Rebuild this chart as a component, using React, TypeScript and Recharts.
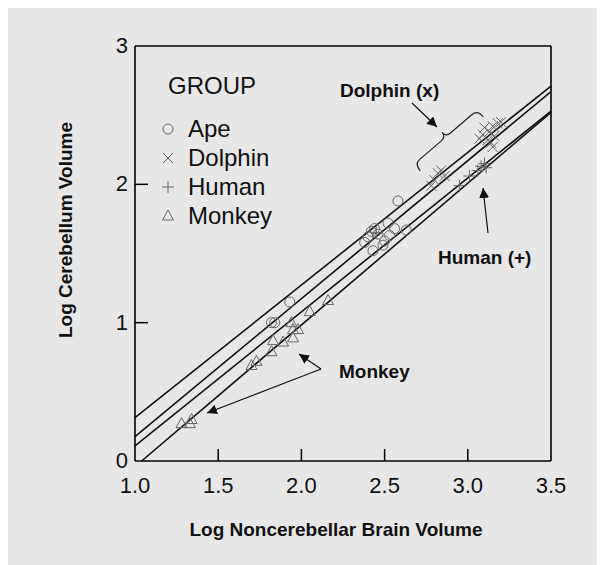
import React from "react"
import { ScatterChart, Scatter, XAxis, YAxis, ReferenceLine } from "recharts"

const xTicks = [1.0, 1.5, 2.0, 2.5, 3.0, 3.5]
const yTicks = [0, 1, 2, 3]

// [log noncerebellar brain volume, log cerebellum volume]
const apePoints = [
  [1.82, 1.0], [1.84, 1.0], [1.93, 1.15], [2.38, 1.58], [2.4, 1.62], [2.42, 1.66],
  [2.44, 1.68], [2.46, 1.64], [2.43, 1.52], [2.49, 1.56], [2.5, 1.59], [2.52, 1.72],
  [2.53, 1.63], [2.56, 1.68], [2.58, 1.88], [2.63, 1.67],
]
const dolphinPoints = [
  [2.78, 1.99], [2.8, 2.03], [2.82, 2.08], [2.84, 2.1], [2.86, 2.06], [3.07, 2.33],
  [3.09, 2.36], [3.1, 2.41], [3.12, 2.32], [3.13, 2.38], [3.14, 2.3], [3.15, 2.42],
  [3.16, 2.35], [3.18, 2.44], [3.2, 2.45], [3.15, 2.27],
]
const humanPoints = [
  [2.45, 1.65], [2.95, 1.99], [3.01, 2.06], [3.06, 2.1], [3.08, 2.13], [3.1, 2.15], [3.11, 2.12],
]
const monkeyPoints = [
  [1.28, 0.27], [1.33, 0.27], [1.34, 0.3], [1.7, 0.69], [1.73, 0.72], [1.82, 0.79],
  [1.83, 0.87], [1.89, 0.86], [1.95, 0.89], [1.94, 1.0], [1.95, 0.95], [1.98, 0.95],
  [2.05, 1.08], [2.16, 1.16],
]

// fitted lines: [x0, y0, x1, y1]
const apeFit = [1.0, 0.313, 3.5, 2.71]
const dolphinFit = [1.0, 0.176, 3.5, 2.67]
const humanFit = [1.0, 0.11, 3.5, 2.53]
const monkeyFit = [1.04, 0, 3.5, 2.52]

const groups = ["Ape", "Dolphin", "Human", "Monkey"]

const BG = "#e7e7e7"
const MARK = "#666"
const FONT = "'Liberation Sans', Arial, Helvetica, sans-serif"

const toRows = (pts: number[][]) => pts.map(([x, y]) => ({ x, y }))

function Marker({ kind, cx, cy }: { kind: string; cx: number; cy: number }) {
  const p = { stroke: MARK, strokeWidth: 1, fill: "none" }
  if (kind === "Ape") return <circle cx={cx} cy={cy} r={5} {...p} />
  if (kind === "Dolphin")
    return <path d={`M${cx - 5},${cy - 5}L${cx + 5},${cy + 5}M${cx - 5},${cy + 5}L${cx + 5},${cy - 5}`} {...p} />
  if (kind === "Human")
    return <path d={`M${cx - 6},${cy}L${cx + 6},${cy}M${cx},${cy - 6}L${cx},${cy + 6}`} {...p} />
  return <path d={`M${cx},${cy - 6}L${cx + 5.5},${cy + 4}L${cx - 5.5},${cy + 4}Z`} {...p} />
}

const tickText = { fontSize: 22, fill: "#111", fontFamily: FONT }

const BottomTick = ({ x, y, payload }: any) => (
  <g>
    {payload.value > 1 && payload.value < 3.5 && (
      <line x1={x} x2={x} y1={y} y2={y - 12} stroke="#000" strokeWidth={1.5} />
    )}
    <text x={x} y={y + 32} textAnchor="middle" {...tickText}>
      {payload.value.toFixed(1)}
    </text>
  </g>
)

const TopTick = ({ x, y, payload }: any) =>
  payload.value > 1 && payload.value < 3.5 ? (
    <line x1={x} x2={x} y1={y} y2={y + 12} stroke="#000" strokeWidth={1.5} />
  ) : (
    <g />
  )

const LeftTick = ({ x, y, payload }: any) => (
  <g>
    {payload.value > 0 && payload.value < 3 && (
      <line x1={x} x2={x + 13} y1={y} y2={y} stroke="#000" strokeWidth={1.5} />
    )}
    <text x={x - 7} y={y + 7} textAnchor="end" {...tickText}>
      {payload.value}
    </text>
  </g>
)

const RightTick = ({ x, y, payload }: any) =>
  payload.value > 0 && payload.value < 3 ? (
    <line x1={x} x2={x - 13} y1={y} y2={y} stroke="#000" strokeWidth={1.5} />
  ) : (
    <g />
  )

function Brace({ x0, y0, x1, y1 }: { x0: number; y0: number; x1: number; y1: number }) {
  const len = Math.hypot(x1 - x0, y1 - y0)
  const ang = (Math.atan2(y1 - y0, x1 - x0) * 180) / Math.PI
  const h = len / 2
  const d = `M0,5 Q0,-4 7,-4 L${h - 6},-4 Q${h},-4 ${h},-10 Q${h},-4 ${h + 6},-4 L${len - 7},-4 Q${len},-4 ${len},5`
  return <path d={d} transform={`translate(${x0},${y0}) rotate(${ang})`} fill="none" stroke="#222" strokeWidth={1.2} />
}

const axisStyle = { stroke: "#000", strokeWidth: 1.6 }

export default function App() {
  const series = [apePoints, dolphinPoints, humanPoints, monkeyPoints]
  const fits = [apeFit, dolphinFit, humanFit, monkeyFit]
  const bold = { fontFamily: FONT, fontWeight: 700, fontSize: 19, fill: "#111" }

  return (
    <div style={{ position: "relative", width: 597, height: 557, background: BG }}>
      <style>{`html,body{overflow:hidden}`}</style>
      <ScatterChart width={597} height={557} margin={{ top: 37, right: 53, bottom: 103, left: 126 }}>
        <XAxis
          xAxisId="b"
          type="number"
          dataKey="x"
          domain={[1, 3.5]}
          ticks={xTicks}
          height={1}
          tickSize={0}
          tickMargin={0}
          tickLine={false}
          tick={<BottomTick />}
          axisLine={axisStyle}
          interval={0}
        />
        <XAxis
          xAxisId="t"
          orientation="top"
          type="number"
          dataKey="x"
          domain={[1, 3.5]}
          ticks={xTicks}
          height={1}
          tickSize={0}
          tickMargin={0}
          tickLine={false}
          tick={<TopTick />}
          axisLine={axisStyle}
          interval={0}
        />
        <YAxis
          yAxisId="l"
          type="number"
          dataKey="y"
          domain={[0, 3]}
          ticks={yTicks}
          width={1}
          tickSize={0}
          tickMargin={0}
          tickLine={false}
          tick={<LeftTick />}
          axisLine={axisStyle}
          interval={0}
        />
        <YAxis
          yAxisId="r"
          orientation="right"
          type="number"
          dataKey="y"
          domain={[0, 3]}
          ticks={yTicks}
          width={1}
          tickSize={0}
          tickMargin={0}
          tickLine={false}
          tick={<RightTick />}
          axisLine={axisStyle}
          interval={0}
        />
        {fits.map((f, i) => (
          <ReferenceLine
            key={groups[i]}
            xAxisId="b"
            yAxisId="l"
            segment={[
              { x: f[0], y: f[1] },
              { x: f[2], y: f[3] },
            ]}
            stroke="#111"
            strokeWidth={1.6}
          />
        ))}
        {series.map((pts, i) => (
          <Scatter
            key={groups[i]}
            name={groups[i]}
            xAxisId="b"
            yAxisId="l"
            data={toRows(pts)}
            isAnimationActive={false}
            shape={(p: any) => <Marker kind={groups[i]} cx={p.cx} cy={p.cy} />}
          />
        ))}
      </ScatterChart>
      <svg
        width={597}
        height={557}
        style={{ position: "absolute", left: 0, top: 0, pointerEvents: "none" }}
      >
        <defs>
          <marker id="ah" viewBox="0 0 10 10" refX="10" refY="5" markerWidth="10" markerHeight="10" markerUnits="userSpaceOnUse" orient="auto">
            <path d="M0,0 L10,5 L0,10 Z" fill="#111" />
          </marker>
        </defs>
        <text x={160} y={86} fontFamily={FONT} fontSize={24} fill="#111">GROUP</text>
        {groups.map((g, i) => (
          <g key={g}>
            <Marker kind={g} cx={160} cy={121 + i * 29} />
            <text x={180} y={129 + i * 29} fontFamily={FONT} fontSize={24} fill="#111">
              {g}
            </text>
          </g>
        ))}
        <text x={328} y={528} textAnchor="middle" {...bold}>Log Noncerebellar Brain Volume</text>
        <text x={0} y={0} textAnchor="middle" transform="translate(64,222) rotate(-90)" {...bold}>
          Log Cerebellum Volume
        </text>

        <text x={332} y={89} {...bold}>Dolphin (x)</text>
        <line x1={404} y1={95} x2={429} y2={119} stroke="#111" strokeWidth={1.2} markerEnd="url(#ah)" />
        <Brace x0={409} y0={159} x1={472} y1={105} />

        <text x={430} y={256} {...bold}>Human (+)</text>
        <line x1={480} y1={225} x2={475} y2={180} stroke="#111" strokeWidth={1.2} markerEnd="url(#ah)" />

        <text x={331} y={370} {...bold}>Monkey</text>
        <line x1={313} y1={361} x2={291} y2={346} stroke="#111" strokeWidth={1.2} markerEnd="url(#ah)" />
        <line x1={313} y1={361} x2={199} y2={405} stroke="#111" strokeWidth={1.2} markerEnd="url(#ah)" />
      </svg>
    </div>
  )
}
